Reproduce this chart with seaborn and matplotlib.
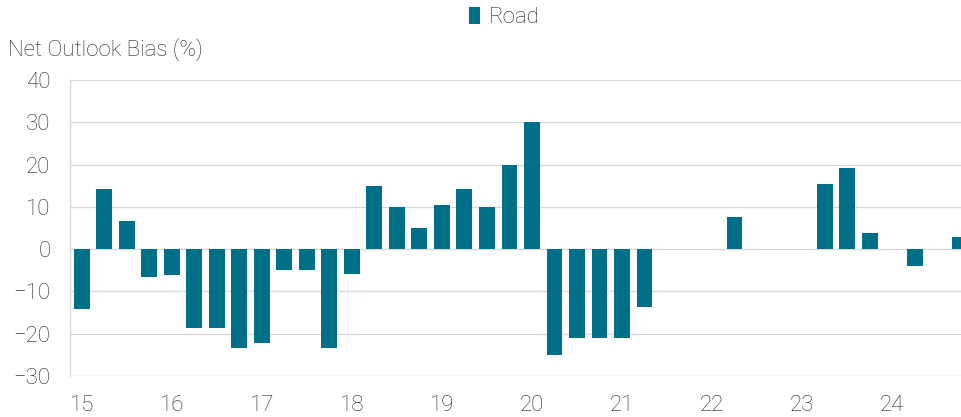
import matplotlib.pyplot as plt
import pandas as pd
import seaborn as sns

# quarterly net outlook bias, 2015 Q1 .. 2024 Q4
years = list(range(15, 25))
quarters = [f"{y}Q{q}" for y in years for q in range(1, 5)]
road = [
    -14.2, 14.2, 6.6, -6.6,
    -6.2, -18.7, -18.7, -23.4,
    -22.2, -5.0, -5.0, -23.4,
    -5.9, 15.0, 10.0, 5.0,
    10.5, 14.2, 10.0, 20.0,
    30.0, -25.0, -20.9, -20.9,
    -20.9, -13.6, 0.0, 0.0,
    0.0, 7.7, 0.0, 0.0,
    0.0, 15.4, 19.2, 3.8,
    0.0, -3.9, 0.0, 2.8,
]
year_labels = [str(y) for y in years]

df = pd.DataFrame({"quarter": quarters, "value": road, "series": "Road"})

sns.set_theme(style="white")
plt.rcParams["font.family"] = ["Roboto", "DejaVu Sans"]

color = "#006F88"
text_color = "#262626"
grid_color = "#d9d9d9"
fs = 16

fig = plt.figure(figsize=(9.62, 4.17), dpi=100)
ax = fig.add_axes([0.0728, 0.0983, 0.9272, 0.7097])

sns.barplot(
    data=df, x="quarter", y="value", hue="series", order=quarters,
    palette=[color], saturation=1, width=0.71, linewidth=0,
    ax=ax, legend=True
)

ax.set_ylim(-30, 40)
ax.set_yticks(range(-30, 41, 10))
ax.set_xlim(-0.53, 39.11)
ax.set_xticks(range(0, 40, 4))
ax.set_xticklabels(year_labels)
ax.grid(axis="y", color=grid_color, linewidth=1)
ax.set_axisbelow(True)
for side in ["top", "right", "bottom"]:
    ax.spines[side].set_visible(False)
ax.spines["left"].set_color(grid_color)
ax.spines["left"].set_linewidth(1)
ax.tick_params(axis="both", labelsize=fs, labelcolor=text_color)
# short stubs of the gridlines poke out left of the axis
ax.tick_params(axis="y", length=5, width=1, color=grid_color, pad=9)
ax.tick_params(axis="x", length=0, pad=14)
for lab in ax.get_xticklabels() + ax.get_yticklabels():
    lab.set_fontweight("light")
ax.set_xlabel("")
ax.set_ylabel("")

fig.text(0.008, 0.88, "Net Outlook Bias (%)", fontsize=fs, color=text_color,
         fontweight="light", ha="left", va="center")

handles, labels = ax.get_legend_handles_labels()
ax.get_legend().remove()
leg = fig.legend(handles, labels, loc="center", bbox_to_anchor=(0.524, 0.958),
                 frameon=False, handlelength=0.5, handleheight=0.85,
                 handletextpad=0.4, prop={"weight": "light", "size": fs})
for t in leg.get_texts():
    t.set_color(text_color)

plt.savefig("out.png", dpi=100)
plt.close()
